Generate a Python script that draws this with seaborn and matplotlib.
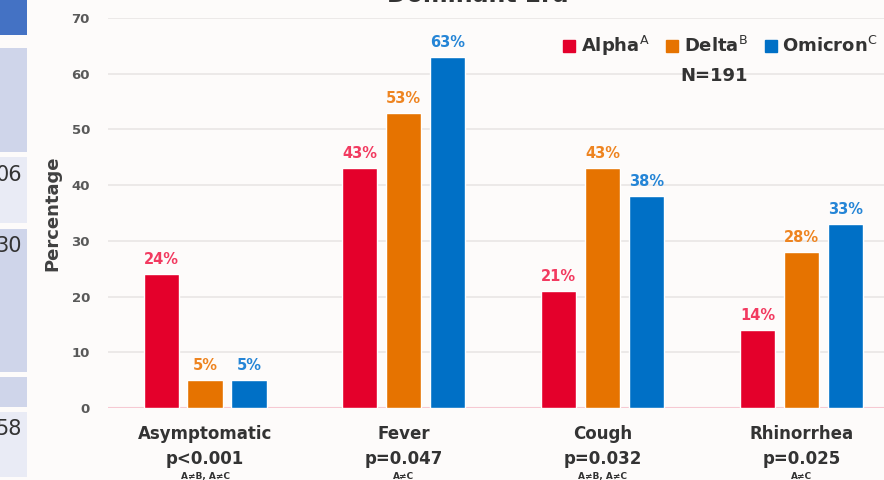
import matplotlib
matplotlib.use("Agg")
import matplotlib.pyplot as plt
import matplotlib.transforms as mtransforms
from matplotlib.lines import Line2D
from matplotlib.patches import Rectangle
import seaborn as sns
import pandas as pd

# ---- data ----
symptoms = ["Asymptomatic", "Fever", "Cough", "Rhinorrhea"]
p_values = ["p<0.001", "p=0.047", "p=0.032", "p=0.025"]
comparisons = ["A≠B, A≠C", "A≠C", "A≠B, A≠C", "A≠C"]
variants = ["Alpha", "Delta", "Omicron"]
variant_sup = ["A", "B", "C"]
alpha_vals = [24, 43, 21, 14]
delta_vals = [5, 53, 43, 28]
omicron_vals = [5, 63, 38, 33]
yticks = [0, 10, 20, 30, 40, 50, 60, 70]

bar_colors = ["#E4002B", "#E67300", "#0070C6"]
label_colors = ["#F23A60", "#EE8420", "#2585D6"]
BG = "#FDFBFA"

rows = []
for v, vals in zip(variants, [alpha_vals, delta_vals, omicron_vals]):
    for s, val in zip(symptoms, vals):
        rows.append({"Symptom": s, "Variant": v, "Pct": val})
df = pd.DataFrame(rows)

sns.set_theme(style="white")
plt.rcParams["font.family"] = ["DejaVu Sans"]

W, H = 884, 480
fig = plt.figure(figsize=(W / 100, H / 100), dpi=100, facecolor=BG)

def fx(px):
    return px / W

def fy(py):
    return 1 - py / H

# ---- left slide fragment (table cells) ----
cells = [(0, 35, "#4472C4"), (48, 152, "#CFD5EA"), (157, 223, "#E9EBF5"),
         (229, 372, "#CFD5EA"), (377, 407, "#CFD5EA"), (412, 477, "#E9EBF5")]
for top, bot, c in cells:
    fig.patches.append(Rectangle((0, fy(bot)), fx(27), (bot - top) / H,
                                 transform=fig.transFigure, facecolor=c,
                                 edgecolor="none", zorder=0))
for txt, py in [("06", 175), ("30", 246), ("58", 429)]:
    fig.text(fx(22), fy(py), txt, ha="right", va="center", fontsize=15,
             color="#333333")

# ---- axes ----
ax = fig.add_axes([fx(108), fy(408), 1 - fx(108), (408 - 18) / H])
ax.set_facecolor(BG)

sns.barplot(data=df, x="Symptom", y="Pct", hue="Variant", order=symptoms,
            hue_order=variants, palette=bar_colors, saturation=1,
            width=0.663, gap=0.2, ax=ax, legend=False, errorbar=None)

ax.set_ylim(0, 70)
ax.set_xlim(-0.488, 3.415)
ax.set_yticks(yticks)
ax.set_yticklabels([str(t) for t in yticks], fontsize=9.5, fontweight="bold",
                   color="#595959")
ax.tick_params(axis="y", length=0, pad=13)
ax.set_xticks([])
ax.set_xlabel("")
ax.set_ylabel("Percentage", fontsize=13, fontweight="bold", color="#404040",
              labelpad=2)
ax.yaxis.set_label_coords(-0.06, 0.5)
for sp in ax.spines.values():
    sp.set_visible(False)
for t in yticks[1:]:
    ax.axhline(t, color="#E9E6E5", lw=1.2, zorder=0)
ax.axhline(0, color="#F6C9D2", lw=1.5, zorder=0)

for cont, col in zip(ax.containers, label_colors):
    ax.bar_label(cont, fmt="%d%%", padding=5, color=col, fontsize=10.5,
                 fontweight="bold")

# ---- category labels ----
trans = mtransforms.blended_transform_factory(ax.transData, fig.transFigure)
for i, (s, p, c) in enumerate(zip(symptoms, p_values, comparisons)):
    ax.text(i, fy(434), s, transform=trans, ha="center", va="center",
            fontsize=12, fontweight="bold", color="#333333", clip_on=False)
    ax.text(i, fy(459), p, transform=trans, ha="center", va="center",
            fontsize=12, fontweight="bold", color="#333333", clip_on=False)
    ax.text(i, fy(476), c, transform=trans, ha="center", va="center",
            fontsize=6.5, fontweight="bold", color="#333333", clip_on=False)

# ---- legend ----
handles = [Line2D([0], [0], marker="s", linestyle="none", markersize=9,
                  markerfacecolor=c, markeredgecolor=c) for c in bar_colors]
labels = [f"{v}$^{{\\mathrm{{{s}}}}}$" for v, s in zip(variants, variant_sup)]
leg = ax.legend(handles, labels, ncol=3, loc="center left",
                bbox_to_anchor=(fx(563), fy(46)),
                bbox_transform=fig.transFigure, frameon=False,
                handlelength=0.7, handletextpad=0.3, columnspacing=0.9,
                borderpad=0, borderaxespad=0,
                prop={"size": 13, "weight": "bold"})
for t in leg.get_texts():
    t.set_color("#333333")
fig.text(fx(714), fy(76), "N=191", ha="center", va="center", fontsize=13,
         fontweight="bold", color="#333333")

# ---- cut title ----
fig.text(fx(478), fy(-5), "Dominant Era", ha="center", va="center",
         fontsize=17, fontweight="bold", color="#333333")

fig.savefig("out.png", dpi=100, facecolor=BG)
